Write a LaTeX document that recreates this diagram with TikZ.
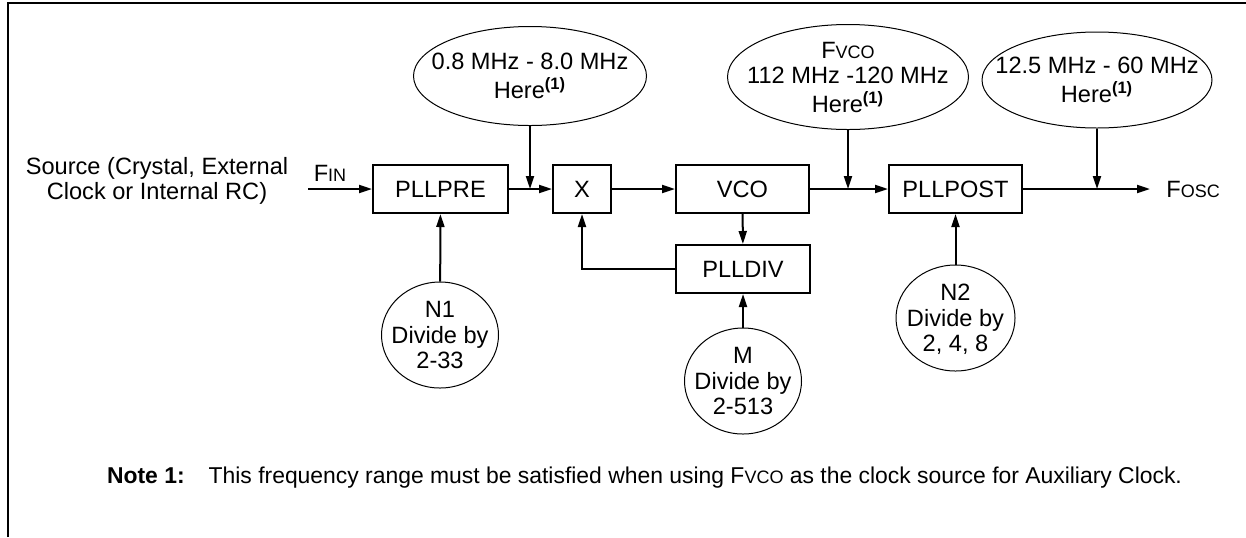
\documentclass[tikz,border=0pt]{standalone}
\usepackage{fontspec}
\setmainfont{Liberation Sans}
\usetikzlibrary{shapes.geometric,arrows.meta}
% smaller capitals for the clock names
\newcommand{\smc}[1]{{\fontsize{9}{9}\selectfont #1}}
% text that does not widen the ellipse round it
\newcommand{\inner}[1]{\makebox[0pt]{\raisebox{-4.5pt}[0pt][0pt]{\begin{tabular}{@{}c@{}}#1\end{tabular}}}}
\newcommand{\here}{Here\textsuperscript{\textbf{(1)}}}

\begin{document}
\begin{tikzpicture}[x=0.5pt, y=-0.5pt,
    every node/.style={font=\fontsize{11.8}{12.8}\selectfont, align=center},
    block/.style={draw, line width=1pt, minimum height=24pt, inner sep=0pt},
    freqrange/.style={draw, ellipse, line width=0.5pt, inner sep=0pt},
    divider/.style={draw, ellipse, line width=0.5pt, inner sep=0pt, minimum width=58.5pt, minimum height=53pt},
    flow/.style={line width=1pt, -{Triangle[length=6.5pt, width=4pt]}}]
    \useasboundingbox (0,0) rectangle (1246,537);
    \draw[line width=1.2pt] (8,537) -- (8,3) -- (1246,3);

    % main chain
    \node (src) at (157,181) {Source (Crystal, External\\Clock or Internal RC)};
    \node (fin) at (330,173) {F\smc{IN}};
    \coordinate (in) at (308,189);
    \node[block, minimum width=67.5pt] (pre) at (440.5,189) {PLLPRE};
    \node[block, minimum width=29pt] (mix) at (582,189) {X};
    \node[block, minimum width=66.5pt] (vco) at (742.5,189) {VCO};
    \node[block, minimum width=66.5pt] (post) at (955.5,189) {PLLPOST};
    \node[block, minimum width=67pt] (div) at (743,269) {PLLDIV};
    \node[anchor=west, inner xsep=8pt] (fosc) at (1150,189) {F\smc{OSC}};

    % frequency ranges
    \node[freqrange, minimum width=116.5pt, minimum height=49.5pt] (r1) at (530,76) {\inner{0.8 MHz - 8.0 MHz\\\here}};
    \node[freqrange, minimum width=120.5pt, minimum height=52.5pt] (r2) at (848,77) {\inner{F\smc{VCO}\\112 MHz -120 MHz\\\here}};
    \node[freqrange, minimum width=115pt, minimum height=48pt] (r3) at (1097,80) {\inner{12.5 MHz - 60 MHz\\\here}};

    % dividers
    \node[divider] (n1) at (440,335) {\inner{N1\\Divide by\\2-33}};
    \node[divider] (m) at (743,381) {\inner{M\\Divide by\\2-513}};
    \node[divider, minimum width=59.5pt] (n2) at (955.5,318) {\inner{N2\\Divide by\\2, 4, 8}};

    \draw[flow] (in) -- (pre);
    \draw[flow] (pre) -- (mix);
    \draw[flow] (mix) -- (vco);
    \draw[flow] (vco) -- (post);
    \draw[flow] (post) -- (fosc);
    \draw[flow] (vco) -- (div);
    \draw[flow] (div.west) -| (mix.south);

    \draw[flow] (n1) -- (pre);
    \draw[flow] (m) -- (div);
    \draw[flow] (n2) -- (post);

    \draw[flow] (r1) -- (r1 |- pre);
    \draw[flow] (r2) -- (r2 |- vco);
    \draw[flow] (r3) -- (r3 |- post);

    \node[anchor=west, font=\fontsize{11.45}{12.8}\selectfont] (note) at (100,478) {\textbf{Note 1:}\hspace{12pt}This frequency range must be satisfied when using F\smc{VCO} as the clock source for Auxiliary Clock.};
\end{tikzpicture}
\end{document}
